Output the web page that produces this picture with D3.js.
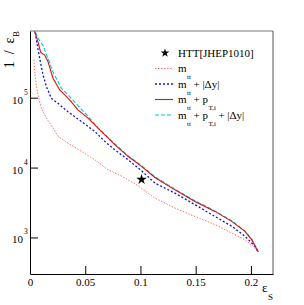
<!DOCTYPE html>
<html>
<head>
<meta charset="utf-8">
<script src="https://cdn.jsdelivr.net/npm/d3@7"></script>
<style>
  body { margin: 0; background: #fff; }
  text { font-family: "Liberation Serif", "DejaVu Serif", serif; fill: #000; }
</style>
</head>
<body>
<svg id="chart"></svg>
<script>
// values: signal efficiency and background rejection 1/eps_B
const xMtt = [0.0035, 0.0042, 0.0057, 0.0072, 0.0102, 0.0148, 0.0208, 0.0253, 0.0344, 0.0465, 0.0585, 0.0706, 0.0826, 0.0950, 0.1131, 0.1312, 0.1493, 0.1674, 0.1826, 0.1946, 0.2021, 0.2067];
const yMtt = [3.5e5, 2.35e5, 1.5e5, 1.1e5, 7.1e4, 5.1e4, 3.7e4, 2.8e4, 2.24e4, 1.71e4, 1.3e4, 9.3e3, 7.6e3, 5.9e3, 3.66e3, 2.63e3, 2.0e3, 1.53e3, 1.16e3, 930, 750, 620];

const xDy = [0.002, 0.0045, 0.0072, 0.0088, 0.0118, 0.0148, 0.0193, 0.0253, 0.0344, 0.0465, 0.0585, 0.0676, 0.0767, 0.0887, 0.1007, 0.1131, 0.1312, 0.1493, 0.1674, 0.1826, 0.1946, 0.2036, 0.2067];
const yDy = [1.26e6, 8.9e5, 5.0e5, 3.66e5, 2.1e5, 1.45e5, 9.8e4, 8.3e4, 6.3e4, 4.57e4, 3.3e4, 2.38e4, 1.8e4, 1.3e4, 9.1e3, 6.0e3, 4.3e3, 2.95e3, 2.0e3, 1.45e3, 1.04e3, 750, 620];

const xPt = [0.002, 0.0042, 0.0072, 0.0097, 0.0133, 0.0163, 0.0208, 0.0269, 0.0314, 0.0359, 0.0434, 0.0525, 0.0645, 0.0767, 0.0887, 0.1007, 0.1131, 0.1312, 0.1493, 0.1674, 0.1826, 0.1946, 0.2007, 0.2067];
const yPt = [1.26e6, 8.9e5, 6.3e5, 4.45e5, 4.07e5, 3.28e5, 1.9e5, 1.29e5, 1.1e5, 9.3e4, 6.7e4, 5.1e4, 3.3e4, 2.13e4, 1.45e4, 1.05e4, 7.2e3, 4.8e3, 3.28e3, 2.36e3, 1.7e3, 1.22e3, 930, 620];

const xAll = [0.002, 0.0045, 0.0080, 0.0118, 0.0163, 0.0208, 0.0284, 0.0374, 0.0525, 0.0615, 0.0767, 0.0887, 0.1007, 0.1131, 0.1312, 0.1493, 0.1674, 0.1826, 0.1946, 0.2007, 0.2067];
const yAll = [1.26e6, 8.9e5, 6.8e5, 5.6e5, 3.6e5, 2.35e5, 1.36e5, 9.8e4, 5.4e4, 3.7e4, 2.2e4, 1.48e4, 1.07e4, 7.4e3, 4.9e3, 3.35e3, 2.4e3, 1.74e3, 1.24e3, 945, 620];

// reference point
const htt = [{ x: 0.101, y: 6750 }];

const xMajor = [0, 0.05, 0.1, 0.15, 0.2];
const xMinor = d3.range(0, 0.221, 0.01);
const yMajor = [1e3, 1e4, 1e5];
const yMinor = [4e2, 5e2, 6e2, 7e2, 8e2, 9e2, 2e3, 3e3, 4e3, 5e3, 6e3, 7e3, 8e3, 9e3,
                2e4, 3e4, 4e4, 5e4, 6e4, 7e4, 8e4, 9e4, 2e5, 3e5, 4e5, 5e5, 6e5, 7e5, 8e5];

const width = 304, height = 305;
const margin = { top: 31, right: 31, bottom: 31, left: 30 };

const svg = d3.select('#chart').attr('width', width).attr('height', height);

const x = d3.scaleLinear().domain([0, 0.22]).range([margin.left, width - margin.right]);
const y = d3.scaleLog().domain([300, 9e5]).range([height - margin.bottom, margin.top]);

svg.append('defs').append('clipPath').attr('id', 'plot')
  .append('rect')
  .attr('x', margin.left).attr('y', margin.top)
  .attr('width', x.range()[1] - margin.left)
  .attr('height', y.range()[0] - margin.top);

// series definitions
const series = [
  { xs: xMtt, ys: yMtt, color: '#ff7070', dash: '1.5,1.5', width: 1 },
  { xs: xDy, ys: yDy, color: '#1010ee', dash: '2,2', width: 1.3 },
  { xs: xPt, ys: yPt, color: '#dd1111', dash: null, width: 1.1 },
  { xs: xAll, ys: yAll, color: '#00c8c8', dash: '4,2', width: 1.1 }
];

const line = d3.line().x(d => x(d[0])).y(d => y(d[1]));

const curves = svg.append('g').attr('clip-path', 'url(#plot)');
// draw cyan under red so red stays visible where they overlap
[0, 1, 3, 2].forEach(i => {
  const s = series[i];
  curves.append('path')
    .datum(d3.zip(s.xs, s.ys))
    .attr('fill', 'none')
    .attr('stroke', s.color)
    .attr('stroke-width', s.width)
    .attr('stroke-dasharray', s.dash)
    .attr('d', line);
});

// star marker
svg.selectAll('.star')
  .data(htt)
  .enter()
  .append('path')
  .attr('class', 'star')
  .attr('d', d3.symbol(d3.symbolStar, 34))
  .attr('transform', d => `translate(${x(d.x)},${y(d.y)})`)
  .attr('fill', '#000');

// frame
const x0 = x.range()[0], x1 = x.range()[1], y0 = y.range()[0], y1 = y.range()[1];
svg.append('line').attr('x1', x0).attr('x2', x1).attr('y1', y1).attr('y2', y1).attr('stroke', '#777');
svg.append('line').attr('x1', x1).attr('x2', x1).attr('y1', y1).attr('y2', y0).attr('stroke', '#555');

// x axis
const xAxisG = svg.append('g').attr('transform', `translate(0,${y0})`);
xAxisG.call(d3.axisBottom(x).tickValues(xMinor).tickSize(-4).tickFormat(''));
xAxisG.call(d3.axisBottom(x).tickValues(xMajor).tickSize(-8).tickSizeOuter(0)
  .tickFormat(d => d === 0 ? '0' : d3.format('.2~f')(d)));
xAxisG.selectAll('.domain').attr('stroke', '#000');
xAxisG.selectAll('text').attr('font-size', 11).attr('dy', 0).attr('y', 12)
  .attr('fill', '#000')
  .style('font-family', '"Liberation Serif", serif');

// y axis
const yAxisG = svg.append('g').attr('transform', `translate(${x0},0)`);
yAxisG.call(d3.axisLeft(y).tickValues(yMinor).tickSize(-4).tickFormat(''));
yAxisG.call(d3.axisLeft(y).tickValues(yMajor).tickSize(-8).tickSizeOuter(0).tickFormat(''));
yAxisG.selectAll('.domain').attr('stroke', '#000');

const yLab = svg.selectAll('.ylab')
  .data(yMajor)
  .enter()
  .append('text')
  .attr('class', 'ylab')
  .attr('font-size', 11)
  .attr('x', 12)
  .attr('y', d => y(d) + 6);
yLab.append('tspan').text('10');
yLab.append('tspan').attr('font-size', 7.5).attr('dx', 1).attr('dy', -9).text(d => Math.round(Math.log10(d)));

// axis titles
const xt = svg.append('text').attr('x', 262).attr('y', 292).attr('font-size', 13);
xt.append('tspan').text('ε');
xt.append('tspan').attr('font-size', 9).attr('dx', 0.5).attr('dy', 8).text('S');

const yt = svg.append('text')
  .attr('transform', `translate(14,${y1}) rotate(-90)`)
  .attr('text-anchor', 'end')
  .attr('font-size', 14);
yt.append('tspan').text('1\u2002/\u2002ε');
yt.append('tspan').attr('font-size', 9).attr('dx', 0.5).attr('dy', 5).text('B');

// legend
const legendY = i => 53 + 15.5 * i;
const legend = svg.append('g');
legend.append('path')
  .attr('d', d3.symbol(d3.symbolStar, 24))
  .attr('transform', `translate(165,${legendY(0)})`)
  .attr('fill', '#000');
legend.append('text').attr('x', 178).attr('y', legendY(0) + 4).attr('font-size', 11).text('HTT[JHEP1010]');

const labelParts = [
  [['m', 0], ['tt', 1]],
  [['m', 0], ['tt', 1], ['+ |Δy|', 0]],
  [['m', 0], ['tt', 1], ['+ p', 0], ['T,i', 1]],
  [['m', 0], ['tt', 1], ['+ p', 0], ['T,i', 1], ['+ |Δy|', 0]]
];
series.forEach((s, i) => {
  const ly = legendY(i + 1);
  legend.append('line')
    .attr('x1', 155).attr('x2', 173).attr('y1', ly).attr('y2', ly)
    .attr('stroke', s.color).attr('stroke-width', s.width)
    .attr('stroke-dasharray', s.dash);
  const t = legend.append('text').attr('x', 178).attr('y', ly + 3.5).attr('font-size', 11);
  labelParts[i].forEach(([str, isSub]) => {
    const span = t.append('tspan').text(str);
    if (isSub) span.attr('font-size', 7).attr('dy', 7).attr('dx', 0.5);
    else if (str !== 'm') span.attr('dy', -7).attr('dx', 2.5);
  });
});
</script>
</body>
</html>
